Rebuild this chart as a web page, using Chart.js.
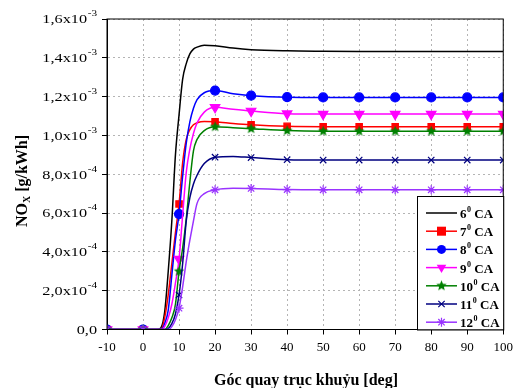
<!DOCTYPE html>
<html>
<head>
<meta charset="utf-8">
<script src="https://cdn.jsdelivr.net/npm/chart.js@4/dist/chart.umd.min.js"></script>
<style>
  html, body { margin: 0; padding: 0; background: #fff; }
  #box { width: 518px; height: 388px; }
</style>
</head>
<body>
<div id="box"><canvas id="myChart"></canvas></div>
<script>
// crank angle [deg]
var angles = [-10, 0, 4, 5, 6, 7, 8, 9, 10, 11, 12, 13, 14, 15, 17, 20, 25, 30, 40, 50, 60, 70, 80, 90, 100];

// NOx, in units of 1e-4 g/kWh
var nox6  = [0, 0, 0, 0.1, 0.9, 3.0, 5.6, 9.0, 11.06, 12.9, 13.7, 14.2, 14.45, 14.55, 14.65, 14.62, 14.5, 14.42, 14.36, 14.34, 14.33, 14.33, 14.33, 14.33, 14.33];
var nox7  = [0, 0, 0, 0, 0.6, 1.8, 3.4, 5.0, 6.47, 8.6, 9.8, 10.3, 10.55, 10.65, 10.72, 10.71, 10.62, 10.55, 10.47, 10.45, 10.45, 10.45, 10.45, 10.45, 10.45];
var nox8  = [0, 0, 0, 0, 0.3, 1.0, 2.8, 4.6, 5.95, 7.9, 9.6, 10.7, 11.4, 11.85, 12.2, 12.31, 12.15, 12.05, 11.97, 11.96, 11.96, 11.96, 11.96, 11.96, 11.96];
var nox9  = [0, 0, 0, 0, 0.15, 0.6, 1.3, 2.4, 3.63, 5.9, 8.1, 9.3, 10.1, 10.65, 11.2, 11.45, 11.35, 11.26, 11.12, 11.1, 11.1, 11.1, 11.1, 11.1, 11.1];
var nox10 = [0, 0, 0, 0, 0, 0.2, 0.6, 1.3, 3.0, 4.2, 5.7, 7.6, 9.2, 9.8, 10.25, 10.45, 10.4, 10.35, 10.25, 10.22, 10.22, 10.22, 10.22, 10.22, 10.22];
var nox11 = [0, 0, 0, 0, 0, 0.05, 0.3, 0.8, 1.78, 3.4, 5.6, 6.8, 7.5, 7.95, 8.55, 8.88, 8.92, 8.86, 8.75, 8.73, 8.73, 8.73, 8.73, 8.73, 8.73];
var nox12 = [0, 0, 0, 0, 0, 0, 0.15, 0.5, 1.1, 2.2, 3.5, 4.6, 5.6, 6.5, 7.0, 7.2, 7.28, 7.27, 7.21, 7.2, 7.2, 7.2, 7.2, 7.2, 7.2];

var seriesNames = ['6', '7', '8', '9', '10', '11', '12'];
var seriesData = [nox6, nox7, nox8, nox9, nox10, nox11, nox12];
var UNIT = 1e-4;

var yTickBase = ['0,0', '2,0x10', '4,0x10', '6,0x10', '8,0x10', '1,0x10', '1,2x10', '1,4x10', '1,6x10'];
var yTickExp  = ['', '-4', '-4', '-4', '-4', '-3', '-3', '-3', '-3'];

var colors = ['#000000', '#ff0000', '#0000ff', '#ff00ff', '#008000', '#000080', '#9933ff'];

var SERIF = '"Liberation Serif", "Times New Roman", serif';

function makeStar(color, r){
    var c = document.createElement('canvas');
    var s = Math.ceil(r * 2 + 2);
    c.width = s; c.height = s;
    var g = c.getContext('2d');
    g.fillStyle = color;
    g.beginPath();
    for(var i = 0; i < 10; i++){
        var rr = (i % 2 === 0) ? r : r * 0.45;
        var a = -Math.PI / 2 + i * Math.PI / 5;
        var px = s / 2 + rr * Math.cos(a);
        var py = s / 2 + rr * Math.sin(a);
        if(i === 0) g.moveTo(px, py); else g.lineTo(px, py);
    }
    g.closePath();
    g.fill();
    return c;
}

var starImg = makeStar('#008000', 5.5);

var markers = [
    {style: 'circle', r: 0, rot: 0},
    {style: 'rect', r: 4.5, rot: 0},
    {style: 'circle', r: 4.5, rot: 0},
    {style: 'triangle', r: 5.5, rot: 180},
    {style: starImg, r: 5, rot: 0},
    {style: 'crossRot', r: 4.5, rot: 0},
    {style: 'star', r: 4.5, rot: 0}
];

var ds = [];
for(var i = 0; i < seriesData.length; i++){
    (function(i){
        var pts = [];
        for(var j = 0; j < angles.length; j++){
            pts.push({x: angles[j], y: seriesData[i][j] * UNIT});
        }
        ds.push({
            label: seriesNames[i] + '0 CA',
            data: pts,
            borderColor: colors[i],
            backgroundColor: colors[i],
            borderWidth: 1.5,
            cubicInterpolationMode: 'monotone',
            pointStyle: markers[i].style,
            pointRotation: markers[i].rot,
            pointBorderWidth: 1.2,
            pointRadius: function(ctx){
                var x = angles[ctx.dataIndex];
                return (x % 10 === 0) ? markers[i].r : 0;
            },
            order: seriesData.length - i
        });
    })(i);
}

function drawMarker(g, i, x, y){
    var m = markers[i];
    var col = colors[i];
    g.save();
    g.fillStyle = col;
    g.strokeStyle = col;
    g.lineWidth = 1.2;
    var r = m.r;
    if(i === 1){
        g.fillRect(x - r, y - r, r * 2, r * 2);
    }else if(i === 2){
        g.beginPath(); g.arc(x, y, r, 0, Math.PI * 2); g.fill();
    }else if(i === 3){
        g.beginPath();
        g.moveTo(x - r * 0.87, y - r * 0.5);
        g.lineTo(x + r * 0.87, y - r * 0.5);
        g.lineTo(x, y + r);
        g.closePath(); g.fill();
    }else if(i === 4){
        g.drawImage(starImg, x - starImg.width / 2, y - starImg.height / 2);
    }else if(i === 5){
        var d = r * 0.707;
        g.beginPath();
        g.moveTo(x - d, y - d); g.lineTo(x + d, y + d);
        g.moveTo(x - d, y + d); g.lineTo(x + d, y - d);
        g.stroke();
    }else if(i === 6){
        var d2 = r * 0.707;
        g.beginPath();
        g.moveTo(x - r, y); g.lineTo(x + r, y);
        g.moveTo(x, y - r); g.lineTo(x, y + r);
        g.moveTo(x - d2, y - d2); g.lineTo(x + d2, y + d2);
        g.moveTo(x - d2, y + d2); g.lineTo(x + d2, y - d2);
        g.stroke();
    }
    g.restore();
}

var decorPlugin = {
    id: 'decor',
    afterDraw: function(chart){
        var g = chart.ctx;
        var a = chart.chartArea;
        var ys = chart.scales.y;
        g.save();
        // frame
        g.strokeStyle = '#000';
        g.lineWidth = 1;
        g.strokeRect(a.left, a.top, a.right - a.left, a.bottom - a.top);

        // y tick labels with superscript (wide serif like the original)
        g.fillStyle = '#000';
        g.textBaseline = 'middle';
        var SX = 1.25;
        for(var k = 0; k < yTickBase.length; k++){
            var py = ys.getPixelForValue(k * 2e-4);
            var xr = 97;
            g.save();
            g.translate(xr, py);
            g.scale(SX, 1);
            if(yTickExp[k]){
                g.font = '9px ' + SERIF;
                g.textAlign = 'right';
                var ew = g.measureText(yTickExp[k]).width;
                g.fillText(yTickExp[k], 0, -5);
                g.font = '13px ' + SERIF;
                g.fillText(yTickBase[k], -ew - 0.5, 1);
            }else{
                g.font = '13px ' + SERIF;
                g.textAlign = 'right';
                g.fillText(yTickBase[k], 0, 1);
            }
            g.restore();
        }

        // y axis title
        g.save();
        g.translate(21, 181);
        g.rotate(-Math.PI / 2);
        g.textBaseline = 'alphabetic';
        g.textAlign = 'left';
        var t1 = 'NO', t3 = ' [g/kWh]';
        g.font = 'bold 16px ' + SERIF;
        var w1 = g.measureText(t1).width;
        g.font = 'bold 10px ' + SERIF;
        var w2 = g.measureText('X').width;
        g.font = 'bold 16px ' + SERIF;
        var w3 = g.measureText(t3).width;
        var sx = -(w1 + w2 + w3) / 2;
        g.fillText(t1, sx, 6);
        g.font = 'bold 10px ' + SERIF;
        g.fillText('X', sx + w1, 9);
        g.font = 'bold 16px ' + SERIF;
        g.fillText(t3, sx + w1 + w2, 6);
        g.restore();

        // x axis title
        g.font = 'bold 16px ' + SERIF;
        g.textAlign = 'center';
        g.textBaseline = 'alphabetic';
        g.fillText('Góc quay trục khuỷu [deg]', 306, 385);

        // legend box
        var lx = 417, ly = 196, lw = a.right - 417, lh = a.bottom - 196;
        g.fillStyle = '#fff';
        g.fillRect(lx, ly, lw, lh);
        g.strokeStyle = '#000';
        g.lineWidth = 1;
        g.strokeRect(lx + 0.5, ly + 0.5, lw, lh);
        for(var n = 0; n < seriesNames.length; n++){
            var ry = 213 + n * 18.2;
            g.strokeStyle = colors[n];
            g.lineWidth = 1.5;
            g.beginPath();
            g.moveTo(426, ry); g.lineTo(457, ry);
            g.stroke();
            drawMarker(g, n, 441.5, ry);
            g.fillStyle = '#000';
            g.textAlign = 'left';
            g.textBaseline = 'alphabetic';
            g.font = 'bold 13px ' + SERIF;
            var nw = g.measureText(seriesNames[n]).width;
            g.fillText(seriesNames[n], 460, ry + 5);
            g.font = 'bold 8px ' + SERIF;
            var zw = g.measureText('0').width;
            g.fillText('0', 460 + nw + 0.5, ry - 1);
            g.font = 'bold 13px ' + SERIF;
            g.fillText(' CA', 460 + nw + zw + 0.5, ry + 5);
        }
        g.restore();
    }
};

const config = {
    type: 'line',
    data: { datasets: ds },
    options: {
        responsive: true,
        maintainAspectRatio: false,
        animation: false,
        layout: { padding: { top: 19, right: 14, left: 0, bottom: 0 } },
        plugins: {
            legend: { display: false },
            tooltip: { enabled: false }
        },
        scales: {
            x: {
                type: 'linear',
                min: -10,
                max: 100,
                ticks: {
                    stepSize: 10,
                    color: '#000',
                    padding: 5,
                    font: { family: SERIF, size: 13 }
                },
                grid: {
                    color: '#b4b4b4',
                    tickColor: '#000',
                    tickLength: 5,
                    tickBorderDash: []
                },
                border: { color: '#000', width: 1, dash: [2, 3] },
                afterFit: function(s){ s.height = 58.5; }
            },
            y: {
                min: 0,
                max: 1.6e-3,
                ticks: {
                    stepSize: 2e-4,
                    display: false
                },
                grid: {
                    color: '#b4b4b4',
                    tickColor: '#000',
                    tickLength: 5,
                    tickBorderDash: []
                },
                border: { color: '#000', width: 1, dash: [2, 3] },
                afterFit: function(s){ s.width = 107; }
            }
        }
    },
    plugins: [decorPlugin]
};

const myChart = new Chart(document.getElementById('myChart'), config);
</script>
</body>
</html>
